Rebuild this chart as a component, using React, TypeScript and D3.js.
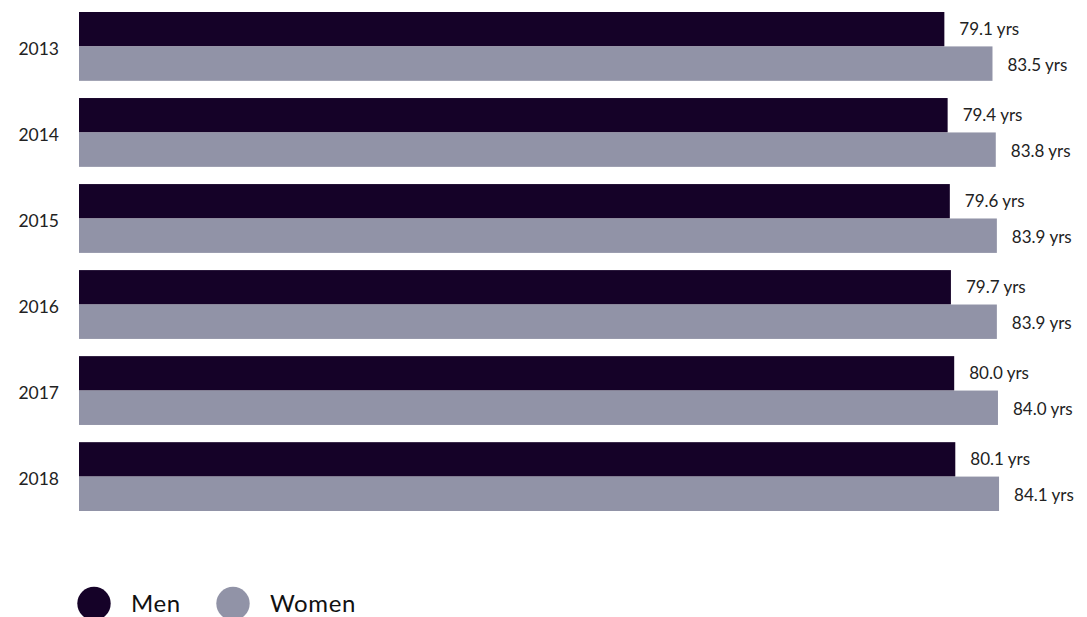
import React from "react";
import * as d3 from "d3";

const years = ["2013", "2014", "2015", "2016", "2017", "2018"];
const menValues = [79.1, 79.4, 79.6, 79.7, 80.0, 80.1];
const womenValues = [83.5, 83.8, 83.9, 83.9, 84.0, 84.1];
const seriesNames = ["Men", "Women"];
const seriesColors = ["#150228", "#9193a7"];

const W = 1087;
const H = 617;
const FONT = "Lato, 'Open Sans', sans-serif";

export default function App() {
  const x = d3.scaleLinear().domain([0, 84.1]).range([79, 79 + 84.1 * 10.94]);
  const y = d3.scaleBand<string>().domain(years).range([12, 511]).paddingInner(0.2).paddingOuter(0);
  const ySub = d3.scaleBand<string>().domain(seriesNames).range([0, y.bandwidth()]);
  const seriesValues = [menValues, womenValues];

  return (
    <svg
      width={W}
      height={H}
      style={{ position: "absolute", left: 0, top: 0, background: "#fff" }}
      fontFamily={FONT}
    >
      {years.map((yr, i) => {
        const y0 = y(yr)!;
        return (
          <g key={yr}>
            <text
              x={59}
              y={y0 + y.bandwidth() / 2 + 2}
              textAnchor="end"
              dominantBaseline="central"
              fontSize={17.5}
              fill="#222"
            >
              {yr}
            </text>
            {seriesNames.map((s, j) => {
              const v = seriesValues[j][i];
              const by = y0 + ySub(s)!;
              return (
                <g key={s}>
                  <rect
                    x={x(0)}
                    y={by}
                    width={x(v) - x(0)}
                    height={ySub.bandwidth()}
                    fill={seriesColors[j]}
                  />
                  <text
                    x={x(v) + 15}
                    y={by + ySub.bandwidth() / 2 + (j === 0 ? -1 : 1)}
                    dominantBaseline="central"
                    fontSize={17}
                    fill="#222"
                  >
                    {v.toFixed(1)} yrs
                  </text>
                </g>
              );
            })}
          </g>
        );
      })}
      {seriesNames.map((s, j) => {
        const cx = 94 + j * 139;
        return (
          <g key={s}>
            <circle cx={cx} cy={603.5} r={16.7} fill={seriesColors[j]} />
            <text x={cx + 37} y={612} fontSize={24} letterSpacing={0.6} fill="#111">
              {s}
            </text>
          </g>
        );
      })}
    </svg>
  );
}
